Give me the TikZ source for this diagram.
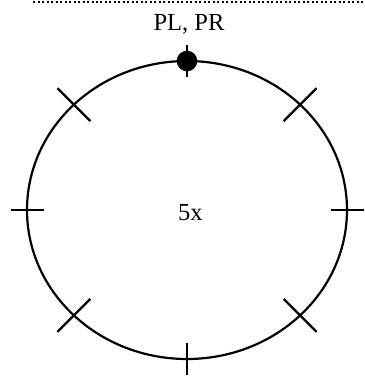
\documentclass[tikz,border=0pt]{standalone}
\usepackage{fontspec}
\setmainfont{Liberation Serif}
\usetikzlibrary{calc}
\begin{document}
\begin{tikzpicture}[x=1pt,y=-1pt,
  lbl/.style={font=\fontsize{24.5}{28}\selectfont, inner sep=0pt},
  ringline/.style={line width=2.2pt},
  tickline/.style={line width=2.2pt}]
\useasboundingbox (0,0) rectangle (365,384);
\draw[line width=2pt, dash pattern=on 2pt off 2.5pt] (33,2) -- (365,2);
\coordinate (c) at (187,210);
\draw[ringline] (c) ellipse [x radius=160, y radius=149];
% ticks
\foreach \a in {0,90,180,270,45,135,225,315}{
  \coordinate (t\a) at ($(c)+({160*cos(\a)},{-149*sin(\a)})$);
}
\draw[tickline] ($(t0)+(-16.5,0)$) -- ($(t0)+(16.5,0)$);
\draw[tickline] ($(t180)+(-16.5,0)$) -- ($(t180)+(16.5,0)$);
\draw[tickline] ($(t90)+(0,-16)$) -- ($(t90)+(0,16)$);
\draw[tickline] ($(t270)+(0,-16)$) -- ($(t270)+(0,16)$);
\draw[tickline] ($(t45)+(-16.5,16.5)$) -- ($(t45)+(16.5,-16.5)$);
\draw[tickline] ($(t135)+(-16.5,-16.5)$) -- ($(t135)+(16.5,16.5)$);
\draw[tickline] ($(t225)+(-16.5,16.5)$) -- ($(t225)+(16.5,-16.5)$);
\draw[tickline] ($(t315)+(-16.5,-16.5)$) -- ($(t315)+(16.5,16.5)$);
\fill (t90) circle (10.3);
\node[lbl, anchor=base] (top) at (189,30) {PL, PR};
\node[lbl, anchor=base] (mid) at (190.5,220) {5x};
\end{tikzpicture}
\end{document}
